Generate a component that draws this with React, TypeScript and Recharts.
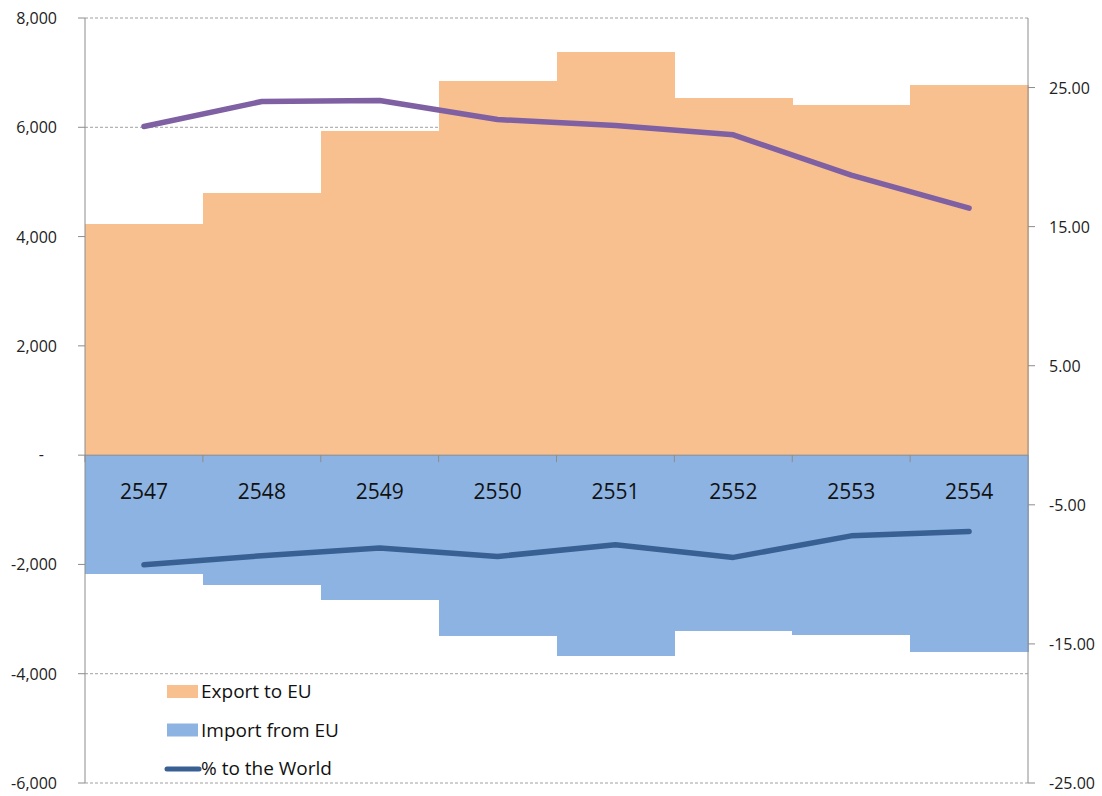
import React from 'react';
import { ComposedChart, Bar, Line, XAxis, YAxis, CartesianGrid, ReferenceLine, LabelList } from 'recharts';

const years = ['2547', '2548', '2549', '2550', '2551', '2552', '2553', '2554'];
const exportToEU = [4229, 4796, 5931, 6847, 7378, 6535, 6407, 6773];
const importFromEU = [-2178, -2380, -2654, -3313, -3680, -3222, -3295, -3606];
const exportPctWorld = [22.2, 24.0, 24.07, 22.7, 22.27, 21.6, 18.7, 16.33];
const importPctWorld = [-9.31, -8.66, -8.11, -8.71, -7.87, -8.78, -7.23, -6.92];
const leftTicks = [-6000, -4000, -2000, 0, 2000, 4000, 6000, 8000];
const rightTicks = [-25, -15, -5, 5, 15, 25];

const data = years.map((y, i) => ({
  year: y,
  exp: exportToEU[i],
  imp: importFromEU[i],
  expPct: exportPctWorld[i],
  impPct: importPctWorld[i],
}));

const FONT = '"Open Sans", sans-serif';
const AXIS = '#8c8c8c';
const ORANGE = '#F9C08F';
const BLUE = '#8DB3E2';
const PURPLE = '#7F60A3';
const DARKBLUE = '#386092';

const LeftTick = (props: any) => {
  const { x, y, payload } = props;
  const v = payload.value;
  if (v === 0) {
    return <text x={x - 13} y={y} dy={5} textAnchor="end" fontSize={16} fontFamily={FONT} fill="#222">-</text>;
  }
  return (
    <text x={x} y={y} dy={6} textAnchor="end" fontSize={16} fontFamily={FONT} fill="#222">
      {v.toLocaleString('en-US')}
    </text>
  );
};

const RightTick = (props: any) => {
  const { x, y, payload } = props;
  return (
    <text x={x} y={y} dy={6} textAnchor="start" fontSize={16} fontFamily={FONT} fill="#222">
      {payload.value.toFixed(2)}
    </text>
  );
};

const ExportShape = (props: any) => {
  const { x, y, width, height } = props;
  const top = Math.min(y, y + height);
  const h = Math.abs(height);
  return <rect x={x} y={top} width={width + 0.6} height={h} fill={ORANGE} shapeRendering="crispEdges" />;
};

const ImportShape = (props: any) => {
  const { x, y, width, height } = props;
  const top = Math.min(y, y + height);
  const h = Math.abs(height);
  return (
    <g>
      <rect x={x} y={top} width={width + 0.6} height={h} fill={BLUE} shapeRendering="crispEdges" />
      <line x1={x} x2={x} y1={top} y2={top + 7} stroke={AXIS} strokeWidth={1} />
    </g>
  );
};

const YearLabel = (props: any) => {
  const { x, y, width, height, value } = props;
  const top = Math.min(y, y + height);
  return (
    <text x={x + width / 2} y={top + 44} textAnchor="middle" fontSize={21} fontFamily={FONT} fill="#111">
      {value}
    </text>
  );
};

const legendItems = [
  { label: 'Export to EU', color: ORANGE, type: 'rect' },
  { label: 'Import from EU', color: BLUE, type: 'rect' },
  { label: '% to the World', color: DARKBLUE, type: 'line' },
];

const LegendBox = () => (
  <svg width={230} height={110} style={{ position: 'absolute', left: 160, top: 676, display: 'block' }}>
    {legendItems.map((it, i) => {
      const base = 22 + i * 38.5;
      return (
        <g key={it.label}>
          {it.type === 'rect' ? (
            <rect x={7} y={base - 13} width={31} height={13} fill={it.color} />
          ) : (
            <line x1={7} x2={39} y1={base - 6} y2={base - 6} stroke={it.color} strokeWidth={5} strokeLinecap="round" />
          )}
          <text x={41} y={base} fontSize={19} fontFamily={FONT} fill="#111">{it.label}</text>
        </g>
      );
    })}
  </svg>
);

export default function App() {
  return (
    <div style={{ position: 'absolute', left: 0, top: 0, width: 1102, height: 796, background: '#fff' }}>
      <ComposedChart
        width={1102}
        height={796}
        data={data}
        margin={{ top: 18, right: 0, bottom: 13, left: 0 }}
        barCategoryGap={0}
        barGap={0}
        stackOffset="sign"
      >
        <CartesianGrid yAxisId="left" vertical={false} stroke="#a0a0a0" strokeDasharray="3 2" />
        <XAxis dataKey="year" hide />
        <YAxis
          yAxisId="left"
          orientation="left"
          width={85}
          domain={[-6000, 8000]}
          ticks={leftTicks}
          interval={0}
          tickSize={7}
          tickMargin={21}
          axisLine={{ stroke: AXIS }}
          tickLine={{ stroke: AXIS }}
          tick={<LeftTick />}
          allowDataOverflow
        />
        <YAxis
          yAxisId="right"
          orientation="right"
          width={74}
          domain={[-25, 30]}
          ticks={rightTicks}
          interval={0}
          tickSize={7}
          tickMargin={14}
          axisLine={{ stroke: AXIS }}
          tickLine={{ stroke: AXIS }}
          tick={<RightTick />}
          allowDataOverflow
        />
        <Bar yAxisId="left" dataKey="exp" stackId="s" fill={ORANGE} shape={<ExportShape />} isAnimationActive={false} />
        <Bar yAxisId="left" dataKey="imp" stackId="s" fill={BLUE} shape={<ImportShape />} isAnimationActive={false}>
          <LabelList dataKey="year" content={<YearLabel />} />
        </Bar>
        <ReferenceLine yAxisId="left" y={0} stroke={AXIS} strokeWidth={1} />
        <Line
          yAxisId="right"
          dataKey="expPct"
          stroke={PURPLE}
          strokeWidth={5.5}
          strokeLinecap="round"
          strokeLinejoin="round"
          dot={false}
          activeDot={false}
          isAnimationActive={false}
        />
        <Line
          yAxisId="right"
          dataKey="impPct"
          stroke={DARKBLUE}
          strokeWidth={5.5}
          strokeLinecap="round"
          strokeLinejoin="round"
          dot={false}
          activeDot={false}
          isAnimationActive={false}
        />
      </ComposedChart>
      <LegendBox />
    </div>
  );
}
